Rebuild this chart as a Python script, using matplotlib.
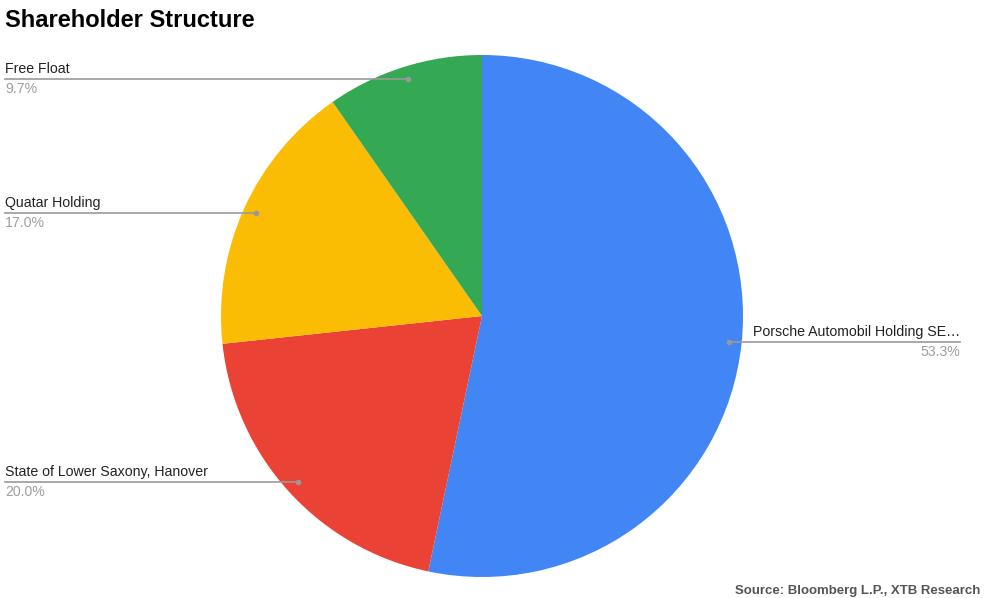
import numpy as np
import matplotlib
matplotlib.use("Agg")
import matplotlib.pyplot as plt

labels = ["Porsche Automobil Holding SE…", "State of Lower Saxony, Hanover", "Quatar Holding", "Free Float"]
values = [53.3, 20.0, 17.0, 9.7]
colors = ["#4285F4", "#EA4335", "#FBBC04", "#34A853"]

W, H = 990, 598
plt.rcParams['font.family'] = ['Liberation Sans', 'DejaVu Sans']
fig = plt.figure(figsize=(W / 100, H / 100), dpi=100)

cx, cy, R = 482, 316, 261
ax = fig.add_axes([(cx - R) / W, (H - cy - R) / H, 2 * R / W, 2 * R / H])
wedges, _ = ax.pie(values, colors=colors, startangle=90, counterclock=False,
                   radius=1, wedgeprops=dict(linewidth=0))
ax.set_xlim(-1, 1)
ax.set_ylim(-1, 1)
ax.set_aspect('equal')
ax.axis('off')

for w, lab, v in zip(wedges, labels, values):
    mid = np.deg2rad((w.theta1 + w.theta2) / 2)
    px, py = 0.95 * np.cos(mid), 0.95 * np.sin(mid)
    disp = ax.transData.transform((px, py))
    fx, fy = fig.transFigure.inverted().transform(disp)
    if px > 0:
        x_end = 960 / W
        fig.add_artist(plt.Line2D([fx, x_end], [fy, fy], color="#999999", lw=1.2))
        fig.text(x_end, fy + 3 / H, lab, ha="right", va="bottom", fontsize=10.2, color="#222222")
        fig.text(x_end, fy - 3 / H, f"{v:.1f}%", ha="right", va="top", fontsize=10.2, color="#9e9e9e")
    else:
        x_end = 5 / W
        fig.add_artist(plt.Line2D([x_end, fx], [fy, fy], color="#999999", lw=1.2))
        fig.text(x_end, fy + 3 / H, lab, ha="left", va="bottom", fontsize=10.2, color="#222222")
        fig.text(x_end, fy - 3 / H, f"{v:.1f}%", ha="left", va="top", fontsize=10.2, color="#9e9e9e")
    fig.add_artist(plt.Line2D([fx], [fy], marker="o", ms=4, color="#999999", mew=0))

fig.text(5 / W, 1 - 9 / H, "Shareholder Structure", ha="left", va="top",
         fontsize=17, fontweight="bold", color="#000000")
fig.text(980 / W, 1 - 597 / H, "Source: Bloomberg L.P., XTB Research", ha="right",
         va="bottom", fontsize=9.5, fontweight="bold", color="#555555")

fig.savefig("out.png", dpi=100, facecolor="white")
